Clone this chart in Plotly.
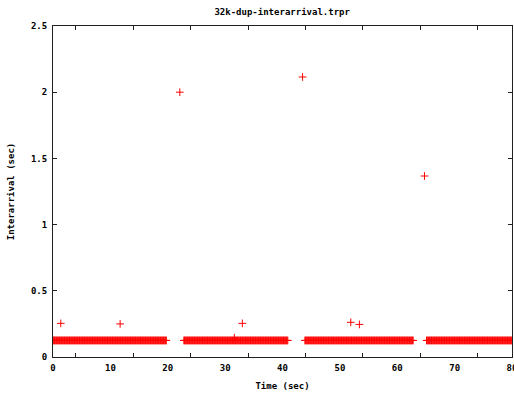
import numpy as np
import plotly.graph_objects as go

# Regular packet runs: arrivals spaced by the nominal interarrival time
run_start = [0.0, 22.8, 43.9, 65.1]
run_end = [19.8, 41.0, 62.9, 80.0]
nominal_interarrival = 0.125

# Irregular arrivals (time of arrival, interarrival)
outlier_time = [1.35, 11.7, 22.1, 31.6, 33.0, 43.5, 51.9, 53.4, 64.75]
outlier_gap = [0.254, 0.25, 2.0, 0.145, 0.254, 2.115, 0.262, 0.246, 1.367]

x_ticks = [0, 10, 20, 30, 40, 50, 60, 70, 80]
x_tick_marks = [4, 14, 24, 34, 44, 54, 64, 74]
y_ticks = [0, 0.5, 1, 1.5, 2, 2.5]
y_tick_text = ["0", "0.5", "1", "1.5", "2", "2.5"]

times = np.concatenate([np.arange(s, e, nominal_interarrival) for s, e in zip(run_start, run_end)])
gaps = np.full(times.shape, nominal_interarrival)

t_all = np.concatenate([times, np.array(outlier_time)])
g_all = np.concatenate([gaps, np.array(outlier_gap)])

FONT = dict(family="DejaVu Sans Mono", size=9, color="black", weight="bold")
AXIS_COLOR = "#202020"

fig = go.Figure()
fig.add_trace(go.Scatter(
    x=t_all, y=g_all, mode="markers",
    marker=dict(symbol="cross-thin", size=5.5, line=dict(color="#ff0000", width=1), color="#ff0000"),
    showlegend=False, hoverinfo="skip",
))
# Invisible traces carrying the bottom and top tick-mark axes
for ax in ("x2", "x3"):
    fig.add_trace(go.Scatter(x=[0, 80], y=[0, 0], xaxis=ax, mode="markers",
                             marker=dict(opacity=0), showlegend=False, hoverinfo="skip"))

tick_axis = dict(
    overlaying="x", range=[0, 80], tickvals=x_tick_marks, ticks="inside",
    ticklen=4, tickcolor=AXIS_COLOR, showticklabels=False, showgrid=False,
    zeroline=False, showline=False, automargin=False,
)

fig.update_layout(
    width=514, height=394,
    margin=dict(l=53, r=2, t=26, b=37),
    paper_bgcolor="white", plot_bgcolor="white",
    font=FONT,
    title=dict(text="32k-dup-interarrival.trpr", x=0.549, xanchor="center",
               y=1 - 12 / 394, yanchor="middle", font=FONT),
    xaxis=dict(
        range=[0, 80], tickvals=x_ticks, ticktext=[str(v) for v in x_ticks],
        ticks="", showgrid=False, zeroline=False,
        showline=True, linecolor=AXIS_COLOR, linewidth=1, mirror=True,
        title=dict(text="Time (sec)", font=FONT, standoff=10),
        tickfont=FONT, ticklabelstandoff=2, ticklabeloverflow="allow",
        automargin=False,
    ),
    xaxis2=dict(tick_axis, side="bottom"),
    xaxis3=dict(tick_axis, side="top"),
    yaxis=dict(
        range=[0, 2.5], tickvals=y_ticks, ticktext=y_tick_text,
        ticks="inside", ticklen=4, tickcolor=AXIS_COLOR,
        showgrid=False, zeroline=False,
        showline=True, linecolor=AXIS_COLOR, linewidth=1, mirror="ticks",
        title=dict(text="Interarrival (sec)", font=FONT, standoff=14),
        tickfont=FONT, ticklabelstandoff=3, automargin=False,
    ),
)

fig.write_html("out.html")
